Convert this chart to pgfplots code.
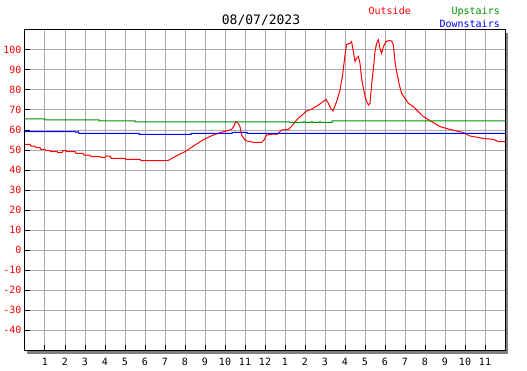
\documentclass[border=0pt]{standalone}
\usepackage{pgfplots}
\pgfplotsset{compat=1.18}
\usepackage{fontspec}
\setmainfont{DejaVu Sans Mono}
\definecolor{upgreen}{RGB}{0,145,0}
\definecolor{gridgray}{RGB}{170,170,170}
\definecolor{shadowgray}{RGB}{128,128,128}
\begin{document}
\begin{tikzpicture}[x=1pt,y=1pt]
\useasboundingbox (0,0) rectangle (527,370);
\fill[shadowgray] (27,16.5) rectangle (507.5,19.5);
\fill[shadowgray] (505,16.5) rectangle (507.5,337);
\begin{axis}[
  at={(25pt,20pt)}, anchor=south west,
  scale only axis, width=480pt, height=320pt,
  xmin=0, xmax=24, ymin=-50, ymax=110,
  xtick={1,2,3,4,5,6,7,8,9,10,11,12,13,14,15,16,17,18,19,20,21,22,23},
  xticklabels={1,2,3,4,5,6,7,8,9,10,11,12,1,2,3,4,5,6,7,8,9,10,11},
  ytick={-40,-30,-20,-10,0,10,20,30,40,50,60,70,80,90,100},
  yticklabels={-40,-30,-20,-10,0,10,20,30,40,50,60,70,80,90,100},
  grid=major,
  major grid style={gridgray, line width=1pt},
  tick align=inside, tick pos=left,
  major tick length=5pt,
  tick style={black, line width=1pt},
  axis line style={black, line width=1pt},
  every tick label/.append style={font=\fontsize{10}{12}\selectfont},
  yticklabel style={red},
  xticklabel style={yshift=-5pt},
  /pgf/number format/assume math mode=true,
  clip=false,
]
\addplot[red, line width=1pt] coordinates {
(0.00,52.8)(0.25,52.8)(0.3,52)(0.5,52)(0.55,51.2)(0.75,51.2)(0.8,50.3)(1.0,50.3)
(1.05,49.7)(1.25,49.7)(1.3,49.2)(1.6,49.2)(1.65,48.7)(1.85,48.7)(1.9,49.7)(2.05,49.7)
(2.1,49.2)(2.5,49.2)(2.55,48.3)(2.9,48.3)(2.95,47.5)(3.25,47.5)(3.3,46.7)(3.75,46.7)
(3.8,46.3)(4.0,46.3)(4.05,47)(4.25,47)(4.3,45.8)(5.0,45.8)(5.05,45.3)(5.75,45.3)
(5.8,44.7)(7.15,44.7)(7.5,46.7)(8.0,49.2)(8.5,52.5)(8.9,55)(9.3,57)(9.75,58.7)
(10.1,59.6)(10.33,60.3)(10.45,62)(10.53,64.2)(10.65,63.5)(10.75,61.7)(10.83,57.5)
(11.0,55)(11.1,54.5)(11.42,53.8)(11.83,53.8)(11.95,55)(12.08,57.5)(12.42,58)(12.6,57.8)
(12.83,60)(13.17,60.3)(13.3,61.5)(13.58,65)(13.8,67)(14.08,69.5)(14.35,70.5)(14.67,72.5)
(14.9,74.2)(15.05,75.3)(15.17,73.3)(15.3,70.5)(15.4,69.5)(15.58,74.2)(15.75,80)(15.88,87.5)
(16.0,97.5)(16.08,102.8)(16.25,103.3)(16.33,104.2)(16.42,99.2)(16.5,94.2)(16.58,95.8)
(16.67,96.7)(16.75,93.3)(16.83,85.8)(16.92,80.8)(17.05,75)(17.17,72.5)(17.25,73.3)
(17.33,82.5)(17.42,90.8)(17.5,99.2)(17.58,103.3)(17.67,105)(17.75,100.8)(17.83,98.3)
(17.92,101.7)(18.05,104.2)(18.17,104.7)(18.33,104.5)(18.42,102.5)(18.5,94.2)(18.58,89.2)
(18.72,82.5)(18.83,78.3)(19.0,75.8)(19.17,73.3)(19.42,71.7)(19.58,70)(19.92,66.7)
(20.25,64.7)(20.75,61.7)(21.25,60.3)(21.92,58.7)(22.25,57)(22.92,55.8)(23.42,55.3)
(23.67,54.2)(24.0,54.2)
};
\addplot[upgreen, line width=1pt] coordinates {
(0,65.5)(1.0,65.5)(1.0,65)(3.7,65)(3.7,64.5)(5.5,64.5)(5.5,64)(13.2,64)(13.25,63.8)
(13.9,63.8)(13.95,64.2)(14.0,63.8)(14.3,63.8)(14.35,64.2)(14.4,63.8)(14.7,63.8)(14.75,64.2)
(14.8,63.8)(15.35,63.8)(15.35,64.5)(24,64.5)
};
\addplot[blue, line width=1pt] coordinates {
(0,59.2)(2.5,59.2)(2.55,58.8)(2.65,59.2)(2.7,58.3)(5.7,58.3)(5.7,57.8)(8.3,57.8)
(8.3,58.3)(10.35,58.3)(10.35,58.8)(11.1,58.8)(11.1,58.3)(24,58.3)
};
\end{axis}
\node[anchor=base, font=\fontsize{13}{15}\selectfont, inner sep=0] at (261,345) {08/07/2023};
\node[anchor=base east, red, font=\fontsize{10}{12}\selectfont, inner sep=0] at (411,355) {Outside};
\node[anchor=base east, upgreen, font=\fontsize{10}{12}\selectfont, inner sep=0] at (500,355) {Upstairs};
\node[anchor=base east, blue, font=\fontsize{10}{12}\selectfont, inner sep=0] at (500,342) {Downstairs};
\end{tikzpicture}
\end{document}
